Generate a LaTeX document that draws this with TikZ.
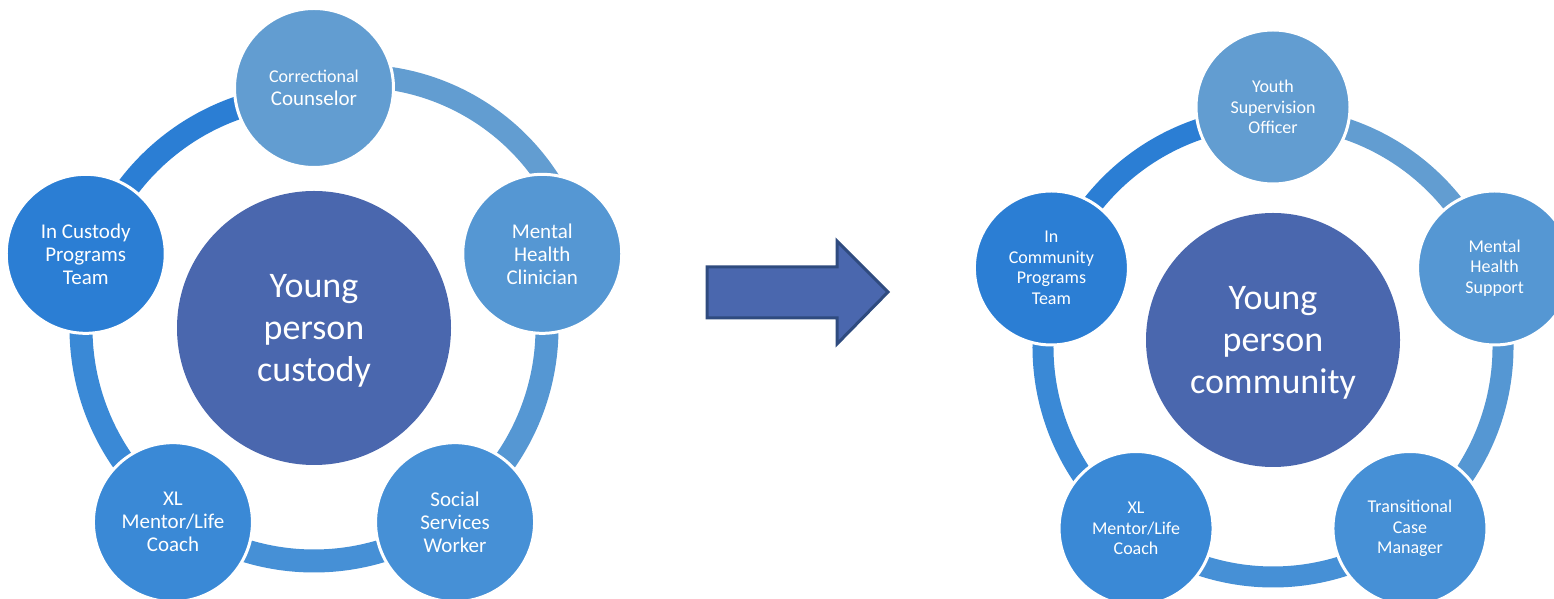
\documentclass[tikz,border=0pt]{standalone}
\usepackage{fontspec}
\setmainfont{Carlito}
\definecolor{ctr}{HTML}{4A67AE}
\definecolor{cA}{HTML}{629DD1}
\definecolor{cB}{HTML}{5597D3}
\definecolor{cC}{HTML}{4690D6}
\definecolor{cD}{HTML}{3A89D6}
\definecolor{cE}{HTML}{2B7ED4}
\definecolor{arrowline}{HTML}{2F4B7F}
\pgfdeclarelayer{bg}
\pgfsetlayers{bg,main}
\begin{document}
\begin{tikzpicture}[x=0.5pt,y=0.5pt,
  ringL/.style={line width=11.5pt},
  ringR/.style={line width=10.5pt},
  satL/.style={circle,draw=white,line width=1.5pt,minimum size=79.5pt,inner sep=0pt,text=white,align=center,font=\fontsize{10.5}{11.5}\selectfont},
  satR/.style={circle,draw=white,line width=1.5pt,minimum size=77pt,inner sep=0pt,text=white,align=center,font=\fontsize{9}{10.3}\selectfont},
  hub/.style={circle,fill=ctr,inner sep=0pt,text=white,align=center,font=\fontsize{18}{21}\selectfont}]
\useasboundingbox (0,0) rectangle (1554,599);
% ---------- left cycle ----------
\coordinate (C1) at (314,271);
\coordinate (TR) at (357,295);
\node[satL,fill=cA] (l1) at ([shift={(90:240)}]C1) {{\fontsize{9}{11.5}\selectfont Correctional}\\Counselor};
\node[satL,fill=cB] (l2) at ([shift={(18:240)}]C1) {Mental\\Health\\Clinician};
\node[satL,fill=cC] (l3) at ([shift={(-54:240)}]C1) {Social\\Services\\Worker};
\node[satL,fill=cD] (l4) at ([shift={(-126:240)}]C1) {XL\\Mentor/Life\\Coach};
\node[satL,fill=cE] (l5) at ([shift={(162:240)}]C1) {In Custody\\Programs\\Team};
\node[hub,minimum size=137pt] (h1) at (C1) {\rule{0pt}{14.5pt}Young\\person\\custody};
% ---------- right cycle ----------
\coordinate (C2) at (1273,259);
\coordinate (C2r) at (1273,252);
\node[satR,fill=cA] (r1) at ([shift={(90:233)}]C2) {Youth\\Supervision\\Officer};
\node[satR,fill=cB] (r2) at ([shift={(18:233)}]C2) {Mental\\Health\\Support};
\node[satR,fill=cC] (r3) at ([shift={(-54:233)}]C2) {Transitional\\Case\\Manager};
\node[satR,fill=cD] (r4) at ([shift={(-126:233)}]C2) {XL\\Mentor/Life\\Coach};
\node[satR,fill=cE] (r5) at ([shift={(162:233)}]C2) {In\\Community\\Programs\\Team};
\node[hub,minimum size=127pt] (h2) at (C2) {\rule{0pt}{14.5pt}Young\\person\\community};
% ---------- rings behind the circles ----------
\begin{pgfonlayer}{bg}
\fill[white] (0,0) rectangle (1554,599);
\draw[ringL,cA] ([shift={(95:228)}]TR) arc[start angle=95,end angle=25,radius=228];
\draw[ringL,cB] ([shift={(18:233)}]C1) arc[start angle=18,end angle=-54,radius=233];
\draw[ringL,cC] ([shift={(-54:233)}]C1) arc[start angle=-54,end angle=-126,radius=233];
\draw[ringL,cD] ([shift={(-126:233)}]C1) arc[start angle=-126,end angle=-198,radius=233];
\draw[ringL,cE] ([shift={(162:233)}]C1) arc[start angle=162,end angle=90,radius=233];
\draw[ringR,cA] ([shift={(90:230)}]C2r) arc[start angle=90,end angle=18,radius=230];
\draw[ringR,cB] ([shift={(18:230)}]C2r) arc[start angle=18,end angle=-54,radius=230];
\draw[ringR,cC] ([shift={(-54:230)}]C2r) arc[start angle=-54,end angle=-126,radius=230];
\draw[ringR,cD] ([shift={(-126:230)}]C2r) arc[start angle=-126,end angle=-198,radius=230];
\draw[ringR,cE] ([shift={(162:230)}]C2r) arc[start angle=162,end angle=90,radius=230];
\end{pgfonlayer}
% ---------- arrow ----------
\draw[fill=ctr,draw=arrowline,line width=1.5pt,line join=miter]
  (707,332) -- (837,332) -- (837,358) -- (888,307) -- (837,255) -- (837,281) -- (707,281) -- cycle;
\end{tikzpicture}
\end{document}
